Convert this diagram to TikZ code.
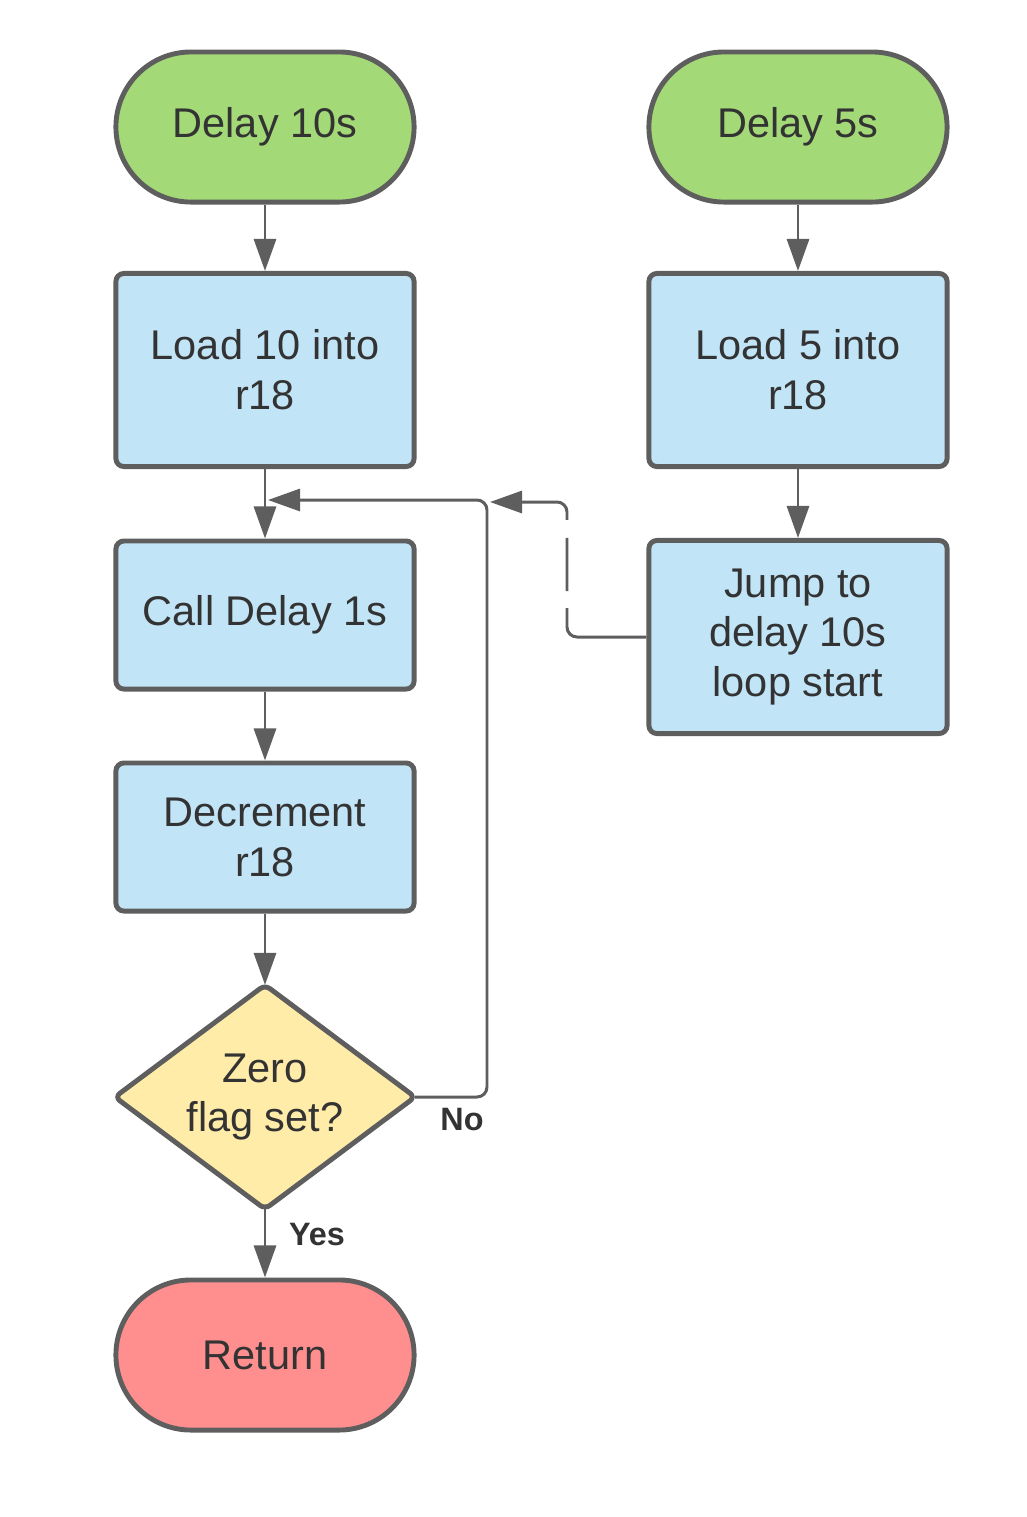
\documentclass[tikz,border=0pt]{standalone}
\usepackage{fontspec}
\setmainfont{Liberation Sans}
\usetikzlibrary{arrows.meta,positioning,shapes.geometric}
\definecolor{edge}{HTML}{5E5E5E}
\definecolor{txt}{HTML}{333333}
\definecolor{startfill}{HTML}{A3D977}
\definecolor{procfill}{HTML}{C1E4F7}
\definecolor{decfill}{HTML}{FFECA9}
\definecolor{endfill}{HTML}{FF8F8F}

\begin{document}
\begin{tikzpicture}[x=0.01cm,y=-0.01cm,
  base/.style={draw=edge,line width=1.4pt,text=txt,font=\fontsize{11.8}{14.2}\selectfont,align=center,inner sep=0pt},
  term/.style={base,minimum width=2.98cm,minimum height=1.5cm,rounded corners=0.75cm},
  proc/.style={base,fill=procfill,minimum width=2.98cm,rounded corners=0.08cm},
  test/.style={base,diamond,aspect=1.5,fill=decfill,minimum width=3cm,minimum height=2.24cm,rounded corners=0.06cm,outer sep=0pt},
  link/.style={draw=edge,line width=0.85pt,-{Triangle[length=0.32cm,width=0.22cm]}},
  lbl/.style={text=txt,font=\fontsize{9.2}{10}\selectfont\bfseries}]
  \useasboundingbox (0,0) rectangle (1026,1517);
  % left column: delay 10s loop
  \node[term,fill=startfill] (d10) at (265,127) {Delay 10s};
  \node[proc,minimum height=1.93cm] (l10) at (265,370) {Load 10 into\\r18};
  \node[proc,minimum height=1.48cm] (call) at (265,615) {Call Delay 1s};
  \node[proc,minimum height=1.48cm] (decr) at (265,837) {Decrement\\r18};
  \node[test] (zero) at (265,1097) {Zero\\flag set?};
  \node[term,fill=endfill] (ret) at (265,1355) {Return};
  % right column: delay 5s
  \node[term,fill=startfill] (d5) at (798,127) {Delay 5s};
  \node[proc,minimum height=1.93cm] (l5) at (798,370) {Load 5 into\\r18};
  \node[proc,minimum height=1.93cm] (jump) at (798,637) {Jump to\\delay 10s\\loop start};
  \coordinate (loopin) at (268,500);
  \coordinate (noturn) at (487,500);
  \coordinate (noend) at (490,502);
  \coordinate (jumpturn) at (567,502);
  \node[lbl] (no) at (462,1120) {No};
  \node[lbl] (yes) at (317,1235) {Yes};
  \draw[link] (d10) -- (l10);
  \draw[link] (l10) -- (call);
  \draw[link] (call) -- (decr);
  \draw[link] (decr) -- (zero);
  \draw[link] (zero) -- (ret);
  \draw[link,rounded corners=0.1cm] (zero.east) -| (noturn) -- (loopin);
  \draw[link] (d5) -- (l5);
  \draw[link] (l5) -- (jump);
  \draw[link,rounded corners=0.1cm,dash pattern=on 1.04cm off 0.17cm on 0.53cm off 0.18cm on 3cm] (jump.west) -| (jumpturn) -- (noend);
\end{tikzpicture}
\end{document}
